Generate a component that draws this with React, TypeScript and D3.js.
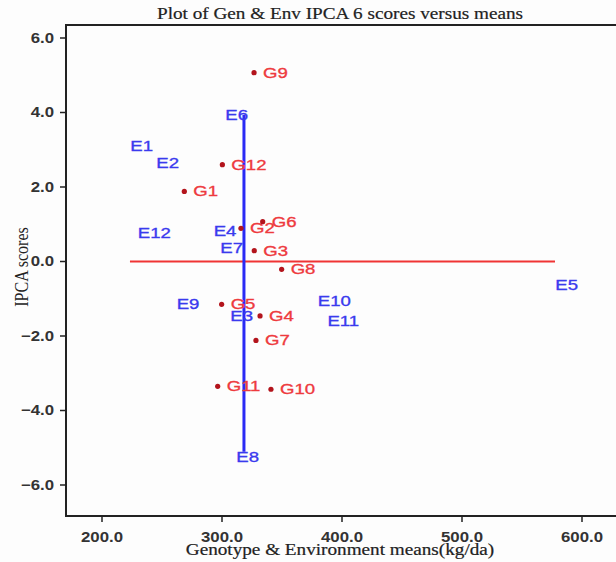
import React from 'react'
import * as d3 from 'd3'

// genotype means (kg/da) and IPCA 6 scores
const genotypes = ['G1', 'G2', 'G3', 'G4', 'G5', 'G6', 'G7', 'G8', 'G9', 'G10', 'G11', 'G12']
const genMeans = [268.6, 315.8, 326.9, 331.7, 299.7, 333.9, 328.3, 349.7, 326.7, 340.8, 296.4, 300.3]
const genScores = [1.88, 0.89, 0.29, -1.46, -1.15, 1.07, -2.12, -0.21, 5.07, -3.43, -3.35, 2.6]

// environment means and IPCA 6 scores
const environments = ['E1', 'E2', 'E3', 'E4', 'E5', 'E6', 'E7', 'E8', 'E9', 'E10', 'E11', 'E12']
const envMeans = [233.1, 254.7, 316.4, 302.5, 587.2, 312.2, 308.1, 321.4, 271.7, 393.6, 401.1, 243.6]
const envScores = [3.1, 2.65, -1.47, 0.83, -0.64, 3.93, 0.37, -5.24, -1.13, -1.07, -1.61, 0.77]

// reference lines
const hLine = { x1: 223.3, x2: 577.5, y: 0 }
const vLine = { x: 318.3, y1: 3.93, y2: -5.11 }

const xTicks = [200, 300, 400, 500, 600]
const yTicks = [-6, -4, -2, 0, 2, 4, 6]

const W = 616
const H = 562
const frame = { left: 66, top: 25, bottom: 516, right: 640 }
const SX = 1.2 // the original picture is stretched horizontally

const sans = "'Liberation Sans', Arial, sans-serif"
const serif = "'Liberation Serif', 'Times New Roman', serif"

const Stretched = ({ x, y, anchor = 'start', children, ...rest }: any) => (
  <text
    transform={`translate(${x},${y}) scale(${SX},1)`}
    textAnchor={anchor}
    dominantBaseline="central"
    {...rest}
  >
    {children}
  </text>
)

export default function App() {
  const x = d3.scaleLinear().domain([200, 600]).range([102, 582])
  const y = d3.scaleLinear().domain([-6, 6]).range([485, 38])
  const fmt = d3.format('.1f')

  return (
    <svg
      width={W}
      height={H}
      style={{ position: 'absolute', left: 0, top: 0, background: '#fff' }}
    >
      <rect width={W} height={H} fill="#fdfdfd" />

      <Stretched x={340} y={14} anchor="middle" fontFamily={serif} fontSize={16} fill="#222" stroke="#222" strokeWidth={0.2}>
        Plot of Gen &amp; Env IPCA 6 scores versus means
      </Stretched>

      {/* frame */}
      <path
        d={`M${frame.right},${frame.top}H${frame.left}V${frame.bottom}H${frame.right}`}
        fill="none"
        stroke="#222"
        strokeWidth={2}
      />

      {/* y axis */}
      {yTicks.map((t) => (
        <g key={t}>
          <line x1={frame.left - 6} x2={frame.left} y1={y(t)} y2={y(t)} stroke="#222" strokeWidth={1.5} />
          <Stretched x={frame.left - 12} y={y(t)} anchor="end" fontFamily={sans} fontSize={14} fontWeight="bold" fill="#333">
            {fmt(t)}
          </Stretched>
        </g>
      ))}

      {/* x axis */}
      {xTicks.map((t) => (
        <g key={t}>
          <line x1={x(t)} x2={x(t)} y1={frame.bottom} y2={frame.bottom + 6} stroke="#222" strokeWidth={1.5} />
          <Stretched x={x(t)} y={537} anchor="middle" fontFamily={sans} fontSize={14} fontWeight="bold" fill="#333">
            {fmt(t)}
          </Stretched>
        </g>
      ))}

      <Stretched x={340} y={550} anchor="middle" fontFamily={serif} fontSize={16} fill="#222" stroke="#222" strokeWidth={0.2}>
        Genotype &amp; Environment means(kg/da)
      </Stretched>
      <text
        transform={`translate(21,267) rotate(-90) scale(1,${SX})`}
        textAnchor="middle"
        dominantBaseline="central"
        fontFamily={serif}
        fontSize={16}
        fill="#222"
      >
        IPCA scores
      </text>

      {/* reference lines */}
      <line x1={x(hLine.x1)} x2={x(hLine.x2)} y1={y(hLine.y)} y2={y(hLine.y)} stroke="#f03434" strokeWidth={2} />
      <line x1={x(vLine.x)} x2={x(vLine.x)} y1={y(vLine.y1)} y2={y(vLine.y2)} stroke="#2a2af5" strokeWidth={3} />

      {/* environments */}
      {environments.map((e, i) => (
        <Stretched key={e} x={x(envMeans[i])} y={y(envScores[i])} anchor="middle" fontFamily={sans} fontSize={15.5} fill="#3a3aee" stroke="#3a3aee" strokeWidth={0.35}>
          {e}
        </Stretched>
      ))}

      {/* genotypes */}
      {genotypes.map((g, i) => (
        <g key={g}>
          <circle cx={x(genMeans[i])} cy={y(genScores[i])} r={2.6} fill="#b3141c" />
          <Stretched x={x(genMeans[i]) + 9} y={y(genScores[i])} fontFamily={sans} fontSize={15.5} fill="#ee3a3e" stroke="#ee3a3e" strokeWidth={0.35}>
            {g}
          </Stretched>
        </g>
      ))}
    </svg>
  )
}
